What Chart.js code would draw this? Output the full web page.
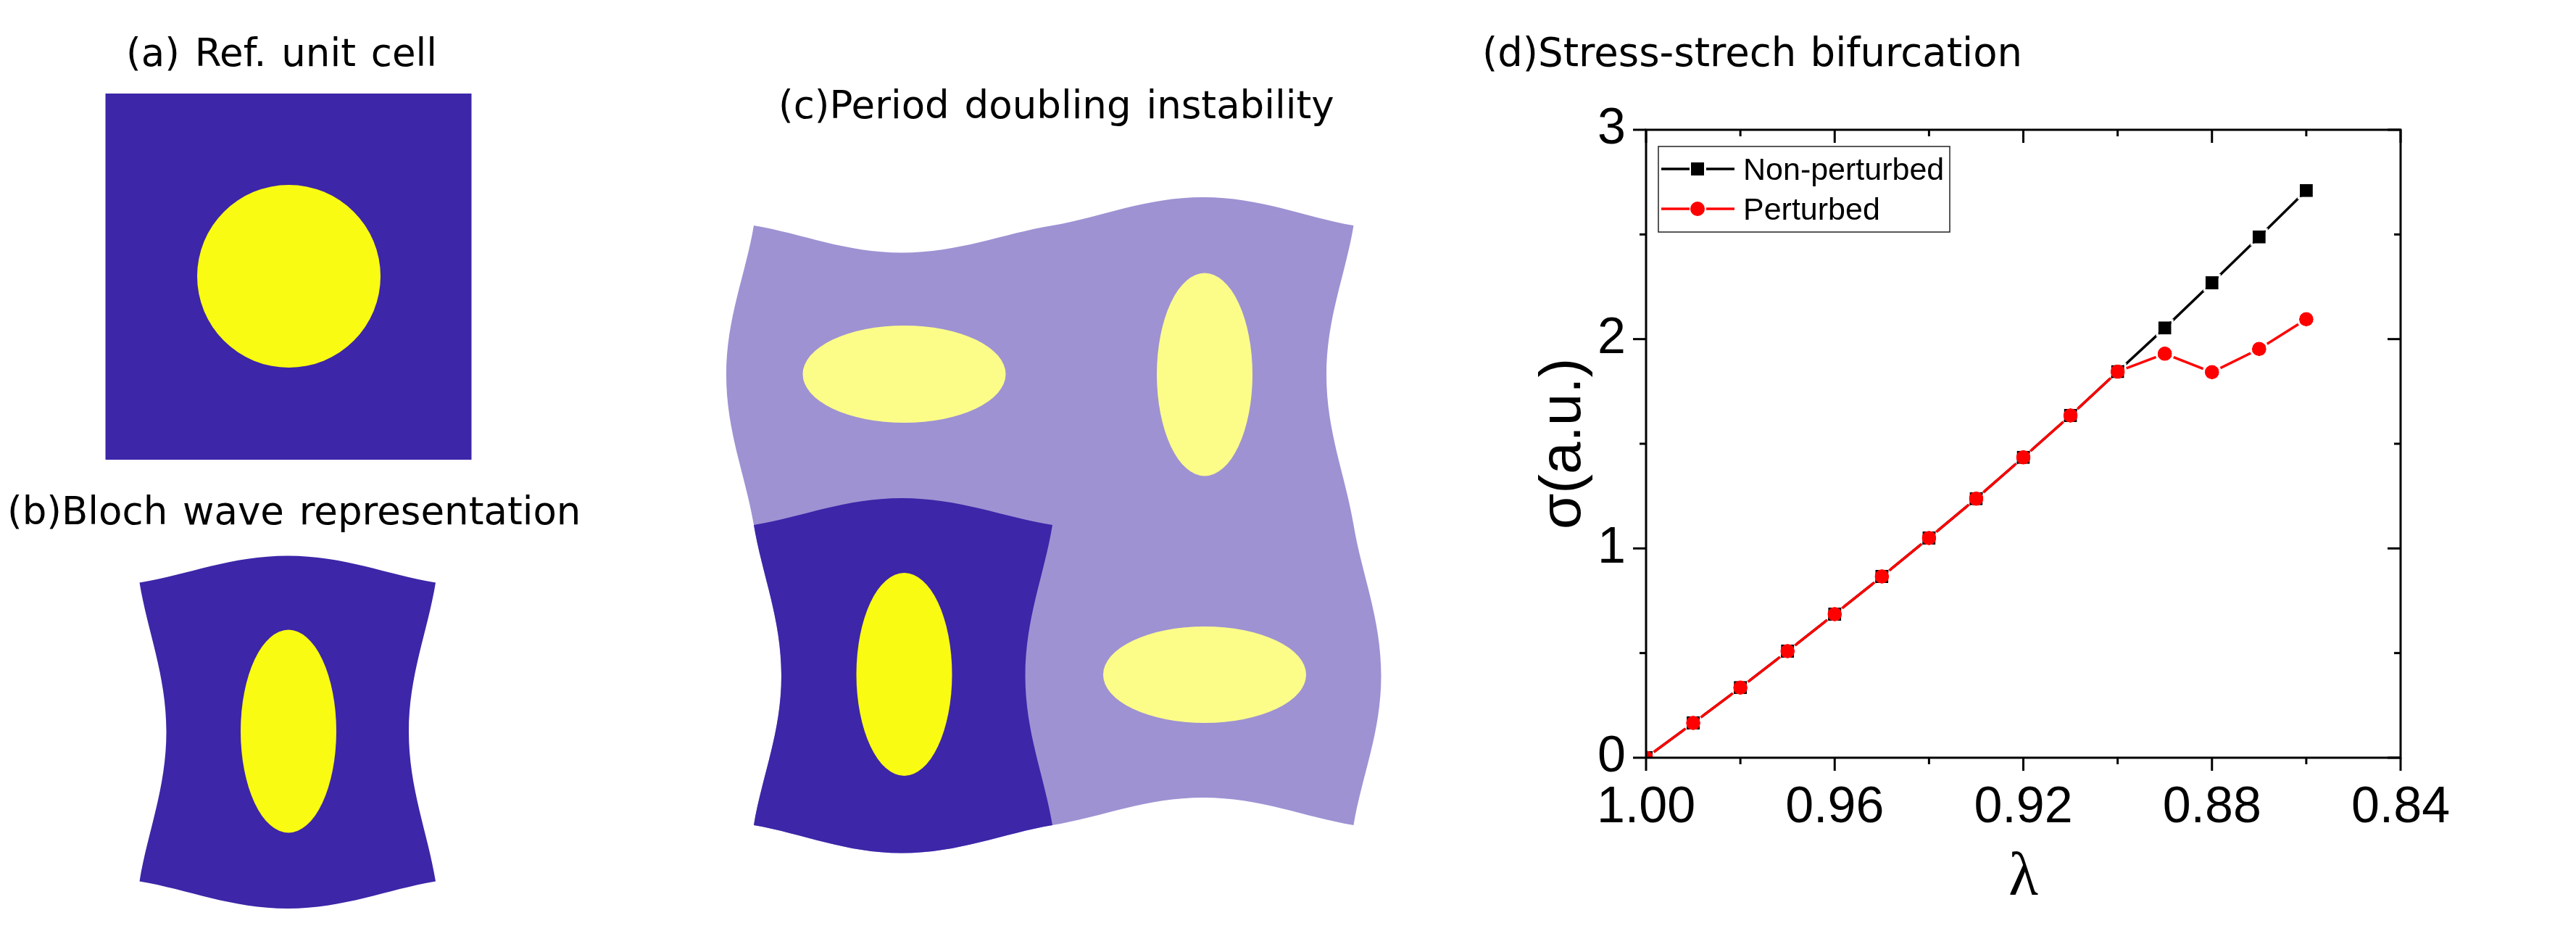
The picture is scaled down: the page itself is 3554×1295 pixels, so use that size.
<!DOCTYPE html>
<html lang="en">
<head>
<meta charset="UTF-8">
<title>Period doubling instability</title>
<script src="https://cdn.jsdelivr.net/npm/chart.js"></script>
<style>
  body { margin: 0; background: #fff; }
  canvas { display: block; }
</style>
</head>
<body>
<canvas id="figure" width="3554" height="1295"></canvas>
<script>
const lambdaValues = [1.00, 0.99, 0.98, 0.97, 0.96, 0.95, 0.94, 0.93, 0.92, 0.91, 0.90, 0.89, 0.88, 0.87, 0.86];
const nonPerturbed = [0, 0.166, 0.335, 0.509, 0.686, 0.866, 1.05, 1.238, 1.435, 1.635, 1.845, 2.053, 2.269, 2.488, 2.71];
const perturbed = [0, 0.166, 0.335, 0.509, 0.686, 0.866, 1.05, 1.238, 1.435, 1.635, 1.845, 1.93, 1.842, 1.953, 2.095];
const xMajor = [1.00, 0.96, 0.92, 0.88, 0.84];
const xMinor = [0.98, 0.94, 0.90, 0.86];
const yMajor = [0, 1, 2, 3];
const yMinor = [0.5, 1.5, 2.5];

const DARK = '#3d26a8', YELLOW = '#f9fb12', LIGHT = '#9e92d3', PALE = '#fcfd89';
const titles = [
  ['(a) Ref. unit cell', 174, 91, '53px', '4px'],
  ['(b)Bloch wave representation', 10, 723, '53px', '4px'],
  ['(c)Period doubling instability', 1074, 163, '53px', '4px'],
  ['(d)Stress-strech bifurcation', 2045, 91, '54.5px', '2px']
];

// one wavy edge through alternating inflection / extreme knots
function edge(ctx, knots, vertical) {
  for (let i = 0; i + 1 < knots.length; i++) {
    const a = knots[i], b = knots[i + 1];
    const t = i % 2 === 0 ? [0.33, 0.3, 0.62, 1] : [0.38, 0, 0.67, 0.7];
    const at = (along, across) => vertical
      ? [a[0] + (b[0] - a[0]) * across, a[1] + (b[1] - a[1]) * along]
      : [a[0] + (b[0] - a[0]) * along, a[1] + (b[1] - a[1]) * across];
    ctx.bezierCurveTo(...at(t[0], t[1]), ...at(t[2], t[3]), b[0], b[1]);
  }
}

function cell(ctx, color, top, right, bottom, left) {
  ctx.fillStyle = color;
  ctx.beginPath();
  ctx.moveTo(top[0][0], top[0][1]);
  edge(ctx, top, false);
  edge(ctx, right, true);
  edge(ctx, bottom, false);
  edge(ctx, left, true);
  ctx.closePath();
  ctx.fill();
}

function blob(ctx, color, x, y, rx, ry) {
  ctx.fillStyle = color;
  ctx.beginPath();
  ctx.ellipse(x, y, rx, ry, 0, 0, Math.PI * 2);
  ctx.fill();
}

// the three schematic panels and the panel titles
const panels = {
  id: 'panels',
  beforeDraw(chart) {
    const ctx = chart.ctx;
    ctx.save();
    ctx.fillStyle = DARK;
    ctx.fillRect(145.5, 129, 505, 505);
    blob(ctx, YELLOW, 398.5, 381, 126.5, 126);

    cell(ctx, DARK,
      [[192.5, 803.5], [397, 766.5], [601, 803.5]],
      [[601, 803.5], [564, 1009], [601, 1215.5]],
      [[601, 1215.5], [397, 1253], [192.5, 1215.5]],
      [[192.5, 1215.5], [229.5, 1009], [192.5, 803.5]]);
    blob(ctx, YELLOW, 398, 1008.5, 66, 140);

    cell(ctx, LIGHT,
      [[1040, 311], [1244, 348.5], [1452, 311], [1660, 272], [1867.5, 311]],
      [[1867.5, 311], [1830, 517], [1867.5, 724], [1905.5, 932], [1867.5, 1138]],
      [[1867.5, 1138], [1660, 1100], [1452, 1138], [1244, 1176.5], [1040, 1138]],
      [[1040, 1138], [1078, 932], [1040, 724], [1002, 517], [1040, 311]]);
    cell(ctx, DARK,
      [[1040, 724], [1244, 687], [1452, 724]],
      [[1452, 724], [1414.5, 932], [1452, 1138]],
      [[1452, 1138], [1244, 1176.5], [1040, 1138]],
      [[1040, 1138], [1078, 932], [1040, 724]]);
    blob(ctx, PALE, 1247.5, 516, 140, 67);
    blob(ctx, PALE, 1662, 516.5, 66, 140);
    blob(ctx, YELLOW, 1247.5, 930, 66, 140);
    blob(ctx, PALE, 1662, 930.5, 140, 66.5);

    ctx.fillStyle = '#000';
    ctx.textBaseline = 'alphabetic';
    titles.forEach(t => {
      ctx.font = t[3] + ' "DejaVu Sans"';
      ctx.wordSpacing = t[4];
      ctx.fillText(t[0], t[1], t[2]);
    });
    ctx.restore();
  }
};

// Origin style white gap between a line and its markers
const markerGap = {
  id: 'markerGap',
  beforeDatasetDraw(chart, args) {
    const ctx = chart.ctx, square = args.index === 0;
    ctx.save();
    ctx.beginPath();
    ctx.rect(0, 0, chart.width, chart.height);
    args.meta.data.forEach(p => {
      if (square) {
        ctx.rect(p.x - 12, p.y - 12, 24, 24);
        ctx.rect(p.x - 9, p.y - 9, 18, 18);
      } else {
        ctx.moveTo(p.x + 13, p.y);
        ctx.arc(p.x, p.y, 13, 0, Math.PI * 2);
        ctx.moveTo(p.x + 10, p.y);
        ctx.arc(p.x, p.y, 10, 0, Math.PI * 2);
      }
    });
    ctx.clip('evenodd');
  },
  afterDatasetDraw(chart) {
    chart.ctx.restore();
  }
};

// frame, ticks on all four sides and the legend box
const frame = {
  id: 'frame',
  afterDraw(chart) {
    const ctx = chart.ctx, a = chart.chartArea, sx = chart.scales.x, sy = chart.scales.y;
    const line = (x1, y1, x2, y2) => {
      ctx.beginPath();
      ctx.moveTo(x1, y1);
      ctx.lineTo(x2, y2);
      ctx.stroke();
    };
    ctx.save();
    ctx.strokeStyle = '#000';
    ctx.lineWidth = 3;
    ctx.strokeRect(a.left, a.top, a.right - a.left, a.bottom - a.top);
    const xTick = (v, len) => {
      const x = sx.getPixelForValue(v);
      line(x, a.bottom, x, a.bottom + len);
      line(x, a.top, x, a.top + len);
    };
    const yTick = (v, len) => {
      const y = sy.getPixelForValue(v);
      line(a.left - len, y, a.left, y);
      line(a.right - len, y, a.right, y);
    };
    xMajor.forEach(v => xTick(v, 18));
    xMinor.forEach(v => xTick(v, 9));
    yMajor.forEach(v => yTick(v, 18));
    yMinor.forEach(v => yTick(v, 9));

    ctx.lineWidth = 1.5;
    ctx.strokeStyle = '#222';
    ctx.strokeRect(2288, 202, 402, 118);
    ctx.lineWidth = 3.5;
    ctx.font = '43px "Liberation Sans"';
    ctx.textBaseline = 'alphabetic';
    chart.data.datasets.forEach((d, i) => {
      const y = i === 0 ? 233 : 288;
      ctx.strokeStyle = d.borderColor;
      ctx.fillStyle = d.borderColor;
      line(2292, y, 2331, y);
      line(2354, y, 2393, y);
      ctx.beginPath();
      if (i === 0) ctx.rect(2333, y - 9, 18, 18);
      else ctx.arc(2342, y, 10, 0, Math.PI * 2);
      ctx.fill();
      ctx.fillStyle = '#000';
      ctx.fillText(d.label, 2405, i === 0 ? 248 : 303);
    });
    ctx.restore();
  }
};

new Chart(document.getElementById('figure'), {
  type: 'line',
  data: {
    datasets: [
      {
        label: 'Non-perturbed',
        data: lambdaValues.map((x, i) => ({ x, y: nonPerturbed[i] })),
        borderColor: '#000000',
        backgroundColor: '#000000',
        borderWidth: 3.5,
        pointStyle: 'rect',
        pointRadius: 12.73,
        pointBorderWidth: 0,
        order: 2
      },
      {
        label: 'Perturbed',
        data: lambdaValues.map((x, i) => ({ x, y: perturbed[i] })),
        borderColor: '#ff0000',
        backgroundColor: '#ff0000',
        borderWidth: 3.5,
        pointStyle: 'circle',
        pointRadius: 10,
        pointBorderWidth: 0,
        order: 1
      }
    ]
  },
  options: {
    responsive: false,
    animation: false,
    events: [],
    layout: { padding: { left: 2110, top: 179, right: 242, bottom: 33 } },
    plugins: { legend: { display: false }, title: { display: false }, tooltip: { enabled: false } },
    scales: {
      x: {
        type: 'linear',
        reverse: true,
        min: 0.84,
        max: 1.0,
        afterBuildTicks: s => { s.ticks = xMajor.map(value => ({ value })); },
        afterFit: s => { s.height = 217; },
        grid: { display: false, drawTicks: false },
        border: { display: false },
        ticks: {
          autoSkip: false,
          maxRotation: 0,
          padding: 28,
          color: '#000',
          font: { family: '"Liberation Sans"', size: 70 },
          callback: v => v.toFixed(2)
        },
        title: {
          display: true,
          text: 'λ',
          color: '#000',
          padding: 0,
          font: { family: '"Liberation Serif"', size: 84 }
        }
      },
      y: {
        min: 0,
        max: 3,
        afterBuildTicks: s => { s.ticks = yMajor.map(value => ({ value })); },
        afterFit: s => { s.width = 161; },
        grid: { display: false, drawTicks: false },
        border: { display: false },
        ticks: {
          padding: 28,
          color: '#000',
          font: { family: '"Liberation Sans"', size: 70 },
          callback: v => String(v)
        },
        title: {
          display: true,
          text: 'σ(a.u.)',
          color: '#000',
          padding: 0,
          font: { family: '"Liberation Sans"', size: 80 }
        }
      }
    }
  },
  plugins: [panels, markerGap, frame]
});
</script>
</body>
</html>
